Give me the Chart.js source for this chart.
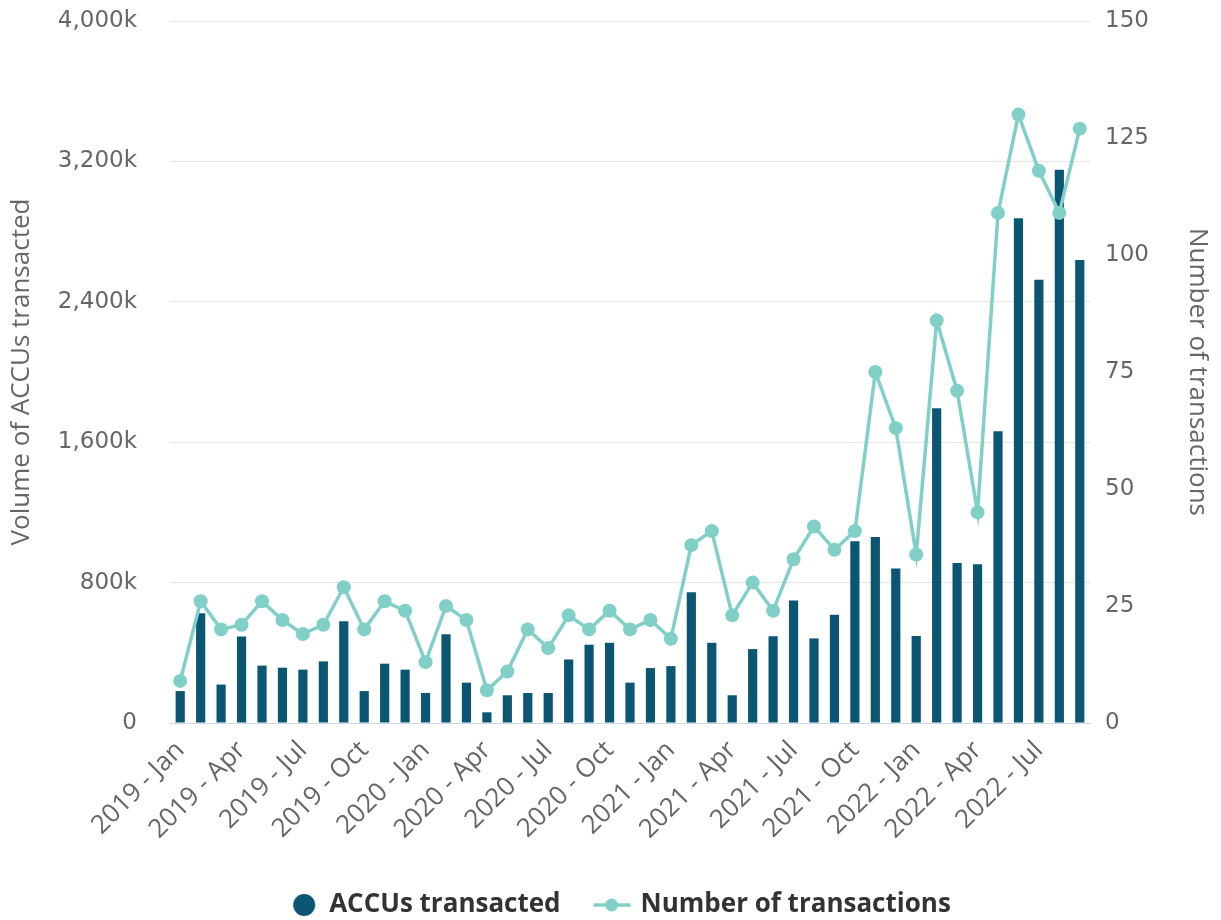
<!DOCTYPE html>
<html>
<head>
<meta charset="utf-8">
<title>ACCUs transacted</title>
<script src="https://cdn.jsdelivr.net/npm/chart.js@4.4.0/dist/chart.umd.min.js"></script>
<style>
  body { margin: 0; background: #fff; }
  canvas { display: block; }
</style>
</head>
<body>
<canvas id="accuChart" width="1221" height="920"></canvas>
<script>
// months from 2019 Jan to 2022 Sep
let years = ['2019', '2020', '2021', '2022'];
let monthNames = ['Jan', 'Feb', 'Mar', 'Apr', 'May', 'Jun', 'Jul', 'Aug', 'Sep', 'Oct', 'Nov', 'Dec'];
let months = [];
years.forEach(y => monthNames.forEach(m => months.push(y + ' - ' + m)));
months = months.slice(0, 45);

// volume in thousands of ACCUs
let accusTransacted = [182, 626, 219, 493, 327, 315, 304, 351, 580, 182, 338, 304,
    171, 506, 230, 61, 158, 171, 171, 362, 446, 457, 230, 313,
    324, 745, 457, 158, 421, 495, 698, 482, 617, 1036, 1060, 880,
    496, 1794, 912, 904, 1663, 2876, 2525, 3152, 2638];

let numberOfTransactions = [9, 26, 20, 21, 26, 22, 19, 21, 29, 20, 26, 24,
    13, 25, 22, 7, 11, 20, 16, 23, 20, 24, 20, 22,
    18, 38, 41, 23, 30, 24, 35, 42, 37, 41, 75, 63,
    36, 86, 71, 45, 109, 130, 118, 109, 127];

let volumeTicks = [0, 800, 1600, 2400, 3200, 4000];
let countTicks = [0, 25, 50, 75, 100, 125, 150];

let barColor = '#0b5672';
let lineColor = '#80d0c7';
let tickFont = { family: 'DejaVu Sans', size: 23 };
let textFont = { family: 'Open Sans', size: 26 };

// legend symbols: a dot for the bars, a line with a dot for the line series
function legendSymbol(kind) {
    let c = document.createElement('canvas');
    let g = c.getContext('2d');
    if (kind === 'bar') {
        c.width = 46;
        c.height = 26;
        g.fillStyle = barColor;
        g.beginPath();
        g.arc(34, 13, 11, 0, Math.PI * 2);
        g.fill();
    } else {
        c.width = 54;
        c.height = 26;
        g.strokeStyle = lineColor;
        g.lineWidth = 3.5;
        g.beginPath();
        g.moveTo(16, 13);
        g.lineTo(53, 13);
        g.stroke();
        g.fillStyle = lineColor;
        g.beginPath();
        g.arc(34, 13, 6.5, 0, Math.PI * 2);
        g.fill();
    }
    return c;
}

let mainChartConfig = {
    type: 'bar',
    data: {
        labels: months,
        datasets: [{
            type: 'bar',
            label: 'ACCUs transacted',
            data: accusTransacted,
            backgroundColor: barColor,
            barPercentage: 0.45,
            categoryPercentage: 1,
            yAxisID: 'y',
            order: 1
        }, {
            type: 'line',
            label: 'Number of transactions',
            data: numberOfTransactions,
            borderColor: lineColor,
            backgroundColor: lineColor,
            borderWidth: 3.5,
            pointRadius: 7,
            pointBorderWidth: 0,
            pointBackgroundColor: lineColor,
            tension: 0,
            yAxisID: 'y1',
            order: 0
        }]
    },
    options: {
        responsive: false,
        animation: false,
        layout: { padding: { top: 21, bottom: -8 } },
        plugins: {
            tooltip: { enabled: false },
            legend: {
                position: 'bottom',
                labels: {
                    usePointStyle: true,
                    pointStyleWidth: 46,
                    boxHeight: 26,
                    padding: 21,
                    color: '#333333',
                    font: { family: 'Open Sans', size: 26, weight: 'bold' },
                    generateLabels: chart => {
                        let items = Chart.defaults.plugins.legend.labels.generateLabels(chart);
                        items.sort((a, b) => a.datasetIndex - b.datasetIndex);
                        items.forEach(item => {
                            item.pointStyle = legendSymbol(item.datasetIndex === 0 ? 'bar' : 'line');
                        });
                        return items;
                    }
                }
            }
        },
        scales: {
            x: {
                grid: { display: false },
                border: { color: '#ccd6eb', width: 1 },
                ticks: {
                    autoSkip: false,
                    maxRotation: 45,
                    minRotation: 45,
                    padding: 4,
                    color: '#666666',
                    font: textFont,
                    callback: function(value, index) {
                        return index % 3 === 0 ? this.getLabelForValue(value) : '';
                    }
                },
                afterFit: scale => { scale.height = 148; }
            },
            y: {
                position: 'left',
                min: 0,
                max: 4000,
                afterBuildTicks: scale => { scale.ticks = volumeTicks.map(v => ({ value: v })); },
                grid: { color: '#e6e6e6', drawTicks: false },
                border: { display: false },
                ticks: {
                    padding: 33,
                    color: '#666666',
                    font: tickFont,
                    callback: v => v === 0 ? '0' : v.toLocaleString('en-US') + 'k'
                },
                title: {
                    display: true,
                    text: 'Volume of ACCUs transacted',
                    color: '#666666',
                    font: textFont,
                    padding: { top: 6, bottom: 0 }
                },
                afterFit: scale => {
                    scale.width = 170;
                    scale.paddingTop = 12;
                }
            },
            y1: {
                position: 'right',
                min: 0,
                max: 150,
                afterBuildTicks: scale => { scale.ticks = countTicks.map(v => ({ value: v })); },
                grid: { drawOnChartArea: false, drawTicks: false },
                border: { display: false },
                ticks: {
                    padding: 15,
                    color: '#666666',
                    font: tickFont
                },
                title: {
                    display: true,
                    text: 'Number of transactions',
                    color: '#666666',
                    font: textFont,
                    padding: { top: 8, bottom: 0 }
                },
                afterFit: scale => {
                    scale.width = 131;
                    scale.paddingTop = 12;
                }
            }
        }
    }
};

window.onload = function() {
    let ctx = document.getElementById('accuChart').getContext('2d');
    window.accuChart = new Chart(ctx, mainChartConfig);
};
</script>
</body>
</html>
